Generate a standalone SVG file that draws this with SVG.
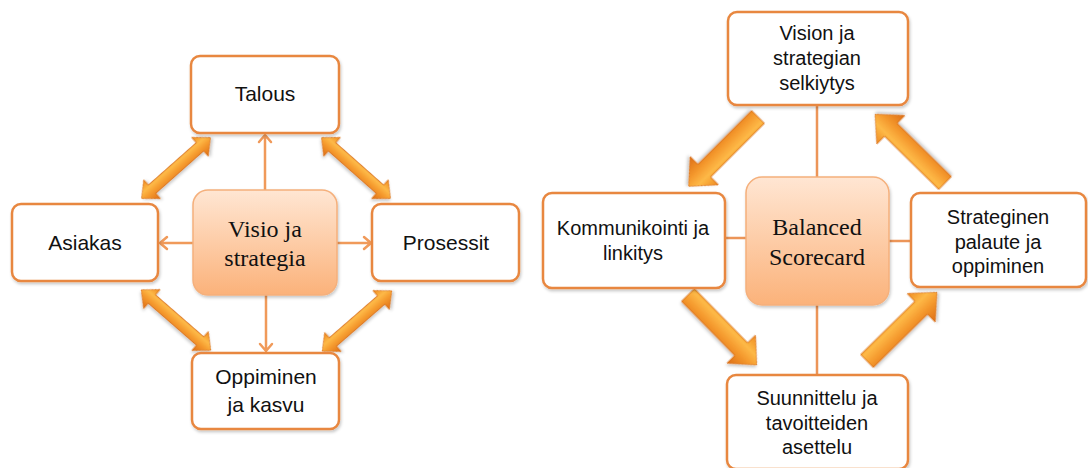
<svg xmlns="http://www.w3.org/2000/svg" width="1088" height="468" viewBox="0 0 1088 468">
  <defs>
    <style>
      .box { fill: #ffffff; stroke: #E8873F; stroke-width: 2.5; filter: url(#shadow); }
      .core { fill: url(#coreFill); stroke: #F5B07C; stroke-width: 1.5; filter: url(#shadow); }
      .lbl { font-family: "Liberation Sans", Arial, sans-serif; font-size: 20px; fill: #111111; text-anchor: middle; }
      .lbl.lg { font-size: 21px; }
      .core-lbl { font-family: "Liberation Serif", "Times New Roman", serif; font-size: 24px; fill: #111111; text-anchor: middle; }
      .thin { fill: none; stroke: #F09A5A; stroke-width: 2.5; stroke-linecap: round; stroke-linejoin: round; }
      .link { fill: none; stroke: #EC9558; stroke-width: 2.5; }
      .block { fill: url(#blockFill); stroke: #D96F18; stroke-width: 0.8; filter: url(#shadow); }
    </style>
    <linearGradient id="coreFill" x1="0" y1="0" x2="0" y2="1">
      <stop offset="0" stop-color="#FFE6D3"/>
      <stop offset="1" stop-color="#FBB27A"/>
    </linearGradient>
    <linearGradient id="blockFill" x1="0" y1="0" x2="0" y2="1">
      <stop offset="0" stop-color="#EE8A22"/>
      <stop offset="0.35" stop-color="#FDB947"/>
      <stop offset="0.6" stop-color="#F59A2E"/>
      <stop offset="1" stop-color="#DD6E16"/>
    </linearGradient>
    <filter id="shadow" x="-10%" y="-10%" width="130%" height="130%">
      <feDropShadow dx="1" dy="2" stdDeviation="1.5" flood-color="#000000" flood-opacity="0.22"/>
    </filter>
    <!-- double-headed block arrow, centred on the origin -->
    <path id="dbl" d="M-46,0 L-32,-12.5 L-32,-5.5 L32,-5.5 L32,-12.5 L46,0 L32,12.5 L32,5.5 L-32,5.5 L-32,12.5 Z"/>
    <!-- single-headed block arrow, tail at origin, pointing along +x -->
    <path id="sgl" d="M0,-9 L76,-9 L76,-20 L98,0 L76,20 L76,9 L0,9 Z"/>
  </defs>

  <!-- connectors -->
  <g id="connectors">
    <!-- left: centre to perspectives -->
    <path class="thin" d="M265,190 V135 M259,142 L265,135 L271,142"/>
    <path class="thin" d="M193,243 H160 M167,237 L160,243 L167,249"/>
    <path class="thin" d="M337,243 H371 M364,237 L371,243 L364,249"/>
    <path class="thin" d="M266,295 V351 M260,344 L266,351 L272,344"/>
    <!-- left: two-way links between perspectives -->
    <use href="#dbl" class="block" transform="translate(176,168) rotate(-41.5)"/>
    <use href="#dbl" class="block" transform="translate(356,168) rotate(41.5)"/>
    <use href="#dbl" class="block" transform="translate(176,320) rotate(41)"/>
    <use href="#dbl" class="block" transform="translate(357,321) rotate(-41)"/>

    <!-- right: spokes -->
    <path class="link" d="M817,105 V177 M817,305 V375 M725,238 H746 M889,241 H911"/>
    <!-- right: cycle arrows -->
    <use href="#sgl" class="block" transform="translate(758,117) rotate(135)"/>
    <use href="#sgl" class="block" transform="translate(688,295) rotate(45.5)"/>
    <use href="#sgl" class="block" transform="translate(867,361) rotate(-44.5)"/>
    <use href="#sgl" class="block" transform="translate(945,183) rotate(-135.5)"/>
  </g>

  <!-- left diagram -->
  <g id="talous">
    <rect class="box" x="191" y="56" width="148" height="77" rx="9"/>
    <text class="lbl lg" x="265" y="101">Talous</text>
  </g>
  <g id="asiakas">
    <rect class="box" x="12" y="204" width="146" height="77" rx="9"/>
    <text class="lbl lg" x="85" y="250">Asiakas</text>
  </g>
  <g id="prosessit">
    <rect class="box" x="372" y="204" width="147" height="77" rx="9"/>
    <text class="lbl lg" x="446" y="250">Prosessit</text>
  </g>
  <g id="oppiminen">
    <rect class="box" x="192" y="353" width="147" height="76" rx="9"/>
    <text class="lbl lg" x="266" y="384">Oppiminen</text>
    <text class="lbl lg" x="266" y="412">ja kasvu</text>
  </g>
  <g id="visio">
    <rect class="core" x="193" y="190" width="144" height="105" rx="15"/>
    <text class="core-lbl" x="265" y="237">Visio ja</text>
    <text class="core-lbl" x="265" y="266">strategia</text>
  </g>

  <!-- right diagram -->
  <g id="vision-selkiytys">
    <rect class="box" x="728" y="12" width="180" height="93" rx="9"/>
    <text class="lbl" x="817" y="40">Vision ja</text>
    <text class="lbl" x="817" y="65">strategian</text>
    <text class="lbl" x="817" y="90">selkiytys</text>
  </g>
  <g id="kommunikointi">
    <rect class="box" x="543" y="193" width="182" height="95" rx="9"/>
    <text class="lbl" x="633" y="235">Kommunikointi ja</text>
    <text class="lbl" x="633" y="260">linkitys</text>
  </g>
  <g id="palaute">
    <rect class="box" x="911" y="193" width="175" height="94" rx="9"/>
    <text class="lbl" x="998" y="224">Strateginen</text>
    <text class="lbl" x="998" y="249">palaute ja</text>
    <text class="lbl" x="998" y="273">oppiminen</text>
  </g>
  <g id="suunnittelu">
    <rect class="box" x="727" y="375" width="181" height="94" rx="9"/>
    <text class="lbl" x="817" y="405">Suunnittelu ja</text>
    <text class="lbl" x="817" y="430">tavoitteiden</text>
    <text class="lbl" x="817" y="454">asettelu</text>
  </g>
  <g id="balanced-scorecard">
    <rect class="core" x="746" y="177" width="143" height="128" rx="16"/>
    <text class="core-lbl" x="817" y="235">Balanced</text>
    <text class="core-lbl" x="817" y="265">Scorecard</text>
  </g>
</svg>
